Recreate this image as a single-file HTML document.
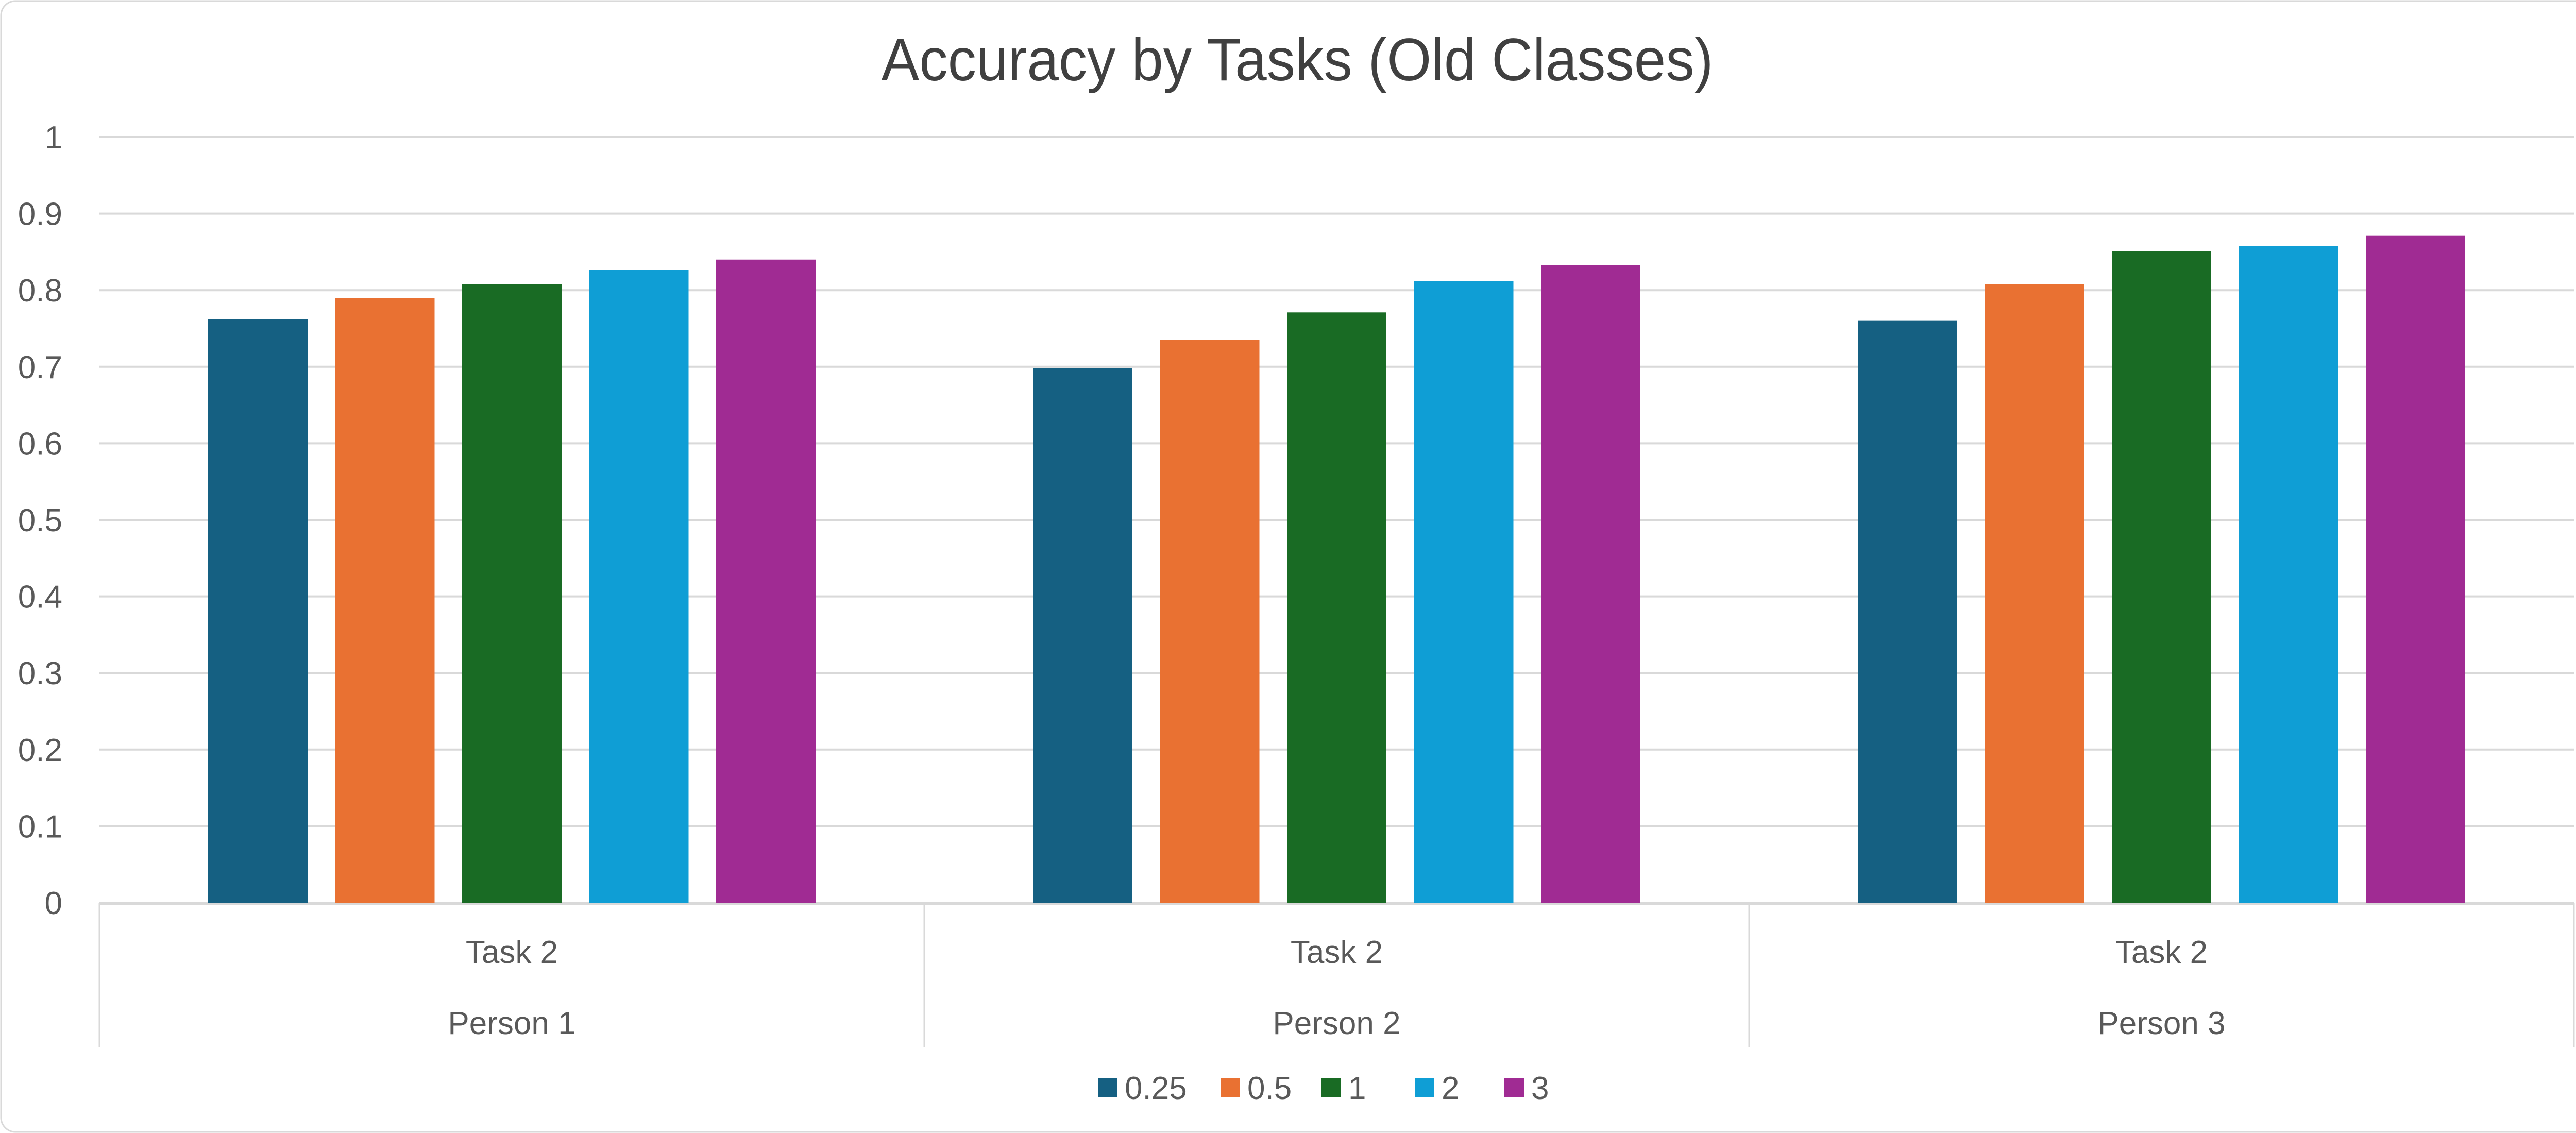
<!DOCTYPE html>
<html><head><meta charset="utf-8"><style>
html,body{margin:0;padding:0;background:#fff}
svg{display:block}
text{font-family:"Liberation Sans",sans-serif;fill:#595959}
</style></head><body>
<svg id="chart" width="5053" height="2199" viewBox="0 0 5053 2199" xmlns="http://www.w3.org/2000/svg">
<rect x="2" y="2" width="5049" height="2195" rx="28" fill="#fff" stroke="#d9d9d9" stroke-width="3"/>
<text x="2518" y="156" text-anchor="middle" font-size="117" style="fill:#404040" textLength="1615" lengthAdjust="spacingAndGlyphs">Accuracy by Tasks (Old Classes)</text>
<g id="grid"></g><g id="bars"></g><g id="xaxis"></g><g id="legend"></g>
</svg>
<script>
const categories = ["Person 1", "Person 2", "Person 3"];
const subLabels = ["Task 2", "Task 2", "Task 2"];
const seriesNames = ["0.25", "0.5", "1", "2", "3"];
const s025 = [0.762, 0.698, 0.760];
const s05 = [0.790, 0.735, 0.808];
const s1 = [0.808, 0.771, 0.851];
const s2 = [0.826, 0.812, 0.858];
const s3 = [0.840, 0.833, 0.871];
const yTicks = ["0","0.1","0.2","0.3","0.4","0.5","0.6","0.7","0.8","0.9","1"];

const series = [s025, s05, s1, s2, s3];
const colors = ["#156082", "#e97132", "#196b24", "#0f9ed5", "#a02b93"];
const NS = "http://www.w3.org/2000/svg";
const L = 193, R = 4996, T = 266, B = 1752;
const y = v => B - (v / 1) * (B - T);
const bandW = (R - L) / categories.length;
const xBand = i => L + i * bandW;
function mk(tag, attrs, parent, txt) {
  const e = document.createElementNS(NS, tag);
  for (const k in attrs) e.setAttribute(k, attrs[k]);
  if (txt !== undefined) e.textContent = txt;
  parent.appendChild(e); return e;
}
const grid = document.getElementById('grid');
yTicks.forEach(t => {
  const v = parseFloat(t);
  const ln = mk('line', {x1: L, x2: R, y1: y(v), y2: y(v), stroke: '#d9d9d9', 'stroke-width': 4}, grid);
  
  
  const tx = mk('text', {x: 121, y: y(v) + 22, 'text-anchor': 'end', 'font-size': 62}, grid, t);
  
  
});
const barsG = document.getElementById('bars');
const barW = 193, step = 246.5, groupW = barW * 5 + (step - barW) * 4;
series.forEach((s, si) => {
  s.forEach((v, ci) => {
    const x0 = xBand(ci) + (bandW - groupW) / 2 + si * step;
    const r = mk('rect', {x: x0, y: y(v), width: barW, height: B - y(v), fill: colors[si]}, barsG);
    
    
  });
});
const xa = document.getElementById('xaxis');
const axl = mk('line', {x1: L, x2: R, y1: B + 2, y2: B + 2, stroke: '#d9d9d9', 'stroke-width': 4}, xa);


for (let i = 0; i <= categories.length; i++) {
  const d = mk('line', {x1: xBand(i), x2: xBand(i), y1: B, y2: 2032, stroke: '#d9d9d9', 'stroke-width': 3}, xa);
  
  
}
categories.forEach((c, i) => {
  const cx = xBand(i) + bandW / 2;
  const t1 = mk('text', {x: cx, y: 1869, 'text-anchor': 'middle', 'font-size': 62}, xa, subLabels[i]);
  
  
  const t2 = mk('text', {x: cx, y: 2007, 'text-anchor': 'middle', 'font-size': 62}, xa, c);
  
  
});
const lg = document.getElementById('legend');
const legX = [2131, 2369, 2565, 2746, 2920];
seriesNames.forEach((n, i) => {
  const g = mk('g', {}, lg);
  
  
  mk('rect', {x: legX[i], y: 2092, width: 38, height: 38, fill: colors[i]}, g);
  mk('text', {x: legX[i] + 52, y: 2133, 'font-size': 62}, g, n);
});
</script>
</body></html>
